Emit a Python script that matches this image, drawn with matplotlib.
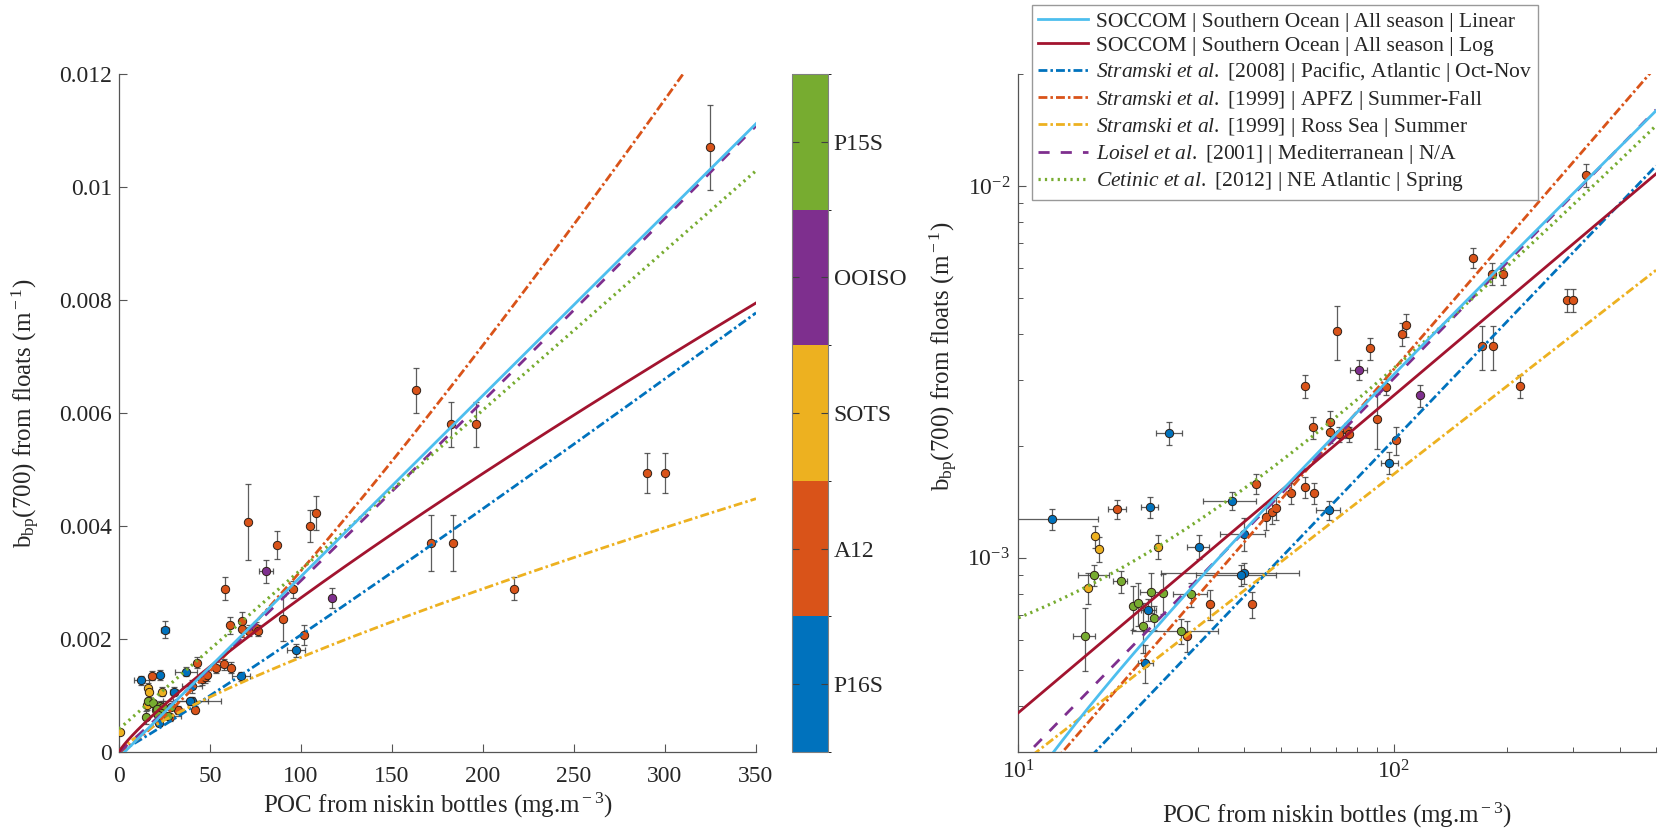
import numpy as np
import matplotlib
matplotlib.use('Agg')
import matplotlib.pyplot as plt
from matplotlib.colors import ListedColormap, BoundaryNorm
from matplotlib.ticker import FuncFormatter, LogLocator, NullFormatter, MultipleLocator
import matplotlib.cm as cm

plt.rcParams['font.family'] = ['Liberation Serif', 'DejaVu Serif']
plt.rcParams['mathtext.fontset'] = 'custom'
plt.rcParams['mathtext.rm'] = 'Liberation Serif'
plt.rcParams['mathtext.it'] = 'Liberation Serif:italic'
plt.rcParams['mathtext.bf'] = 'Liberation Serif:bold'

# ---------------- data ----------------
cruise_names = ['P16S', 'A12', 'SOTS', 'OOISO', 'P15S']
cruise_colors = ['#0072BD', '#D95319', '#EDB120', '#7E2F8E', '#77AC30']

p16s_poc = [12.3, 22.4, 25.2, 30.2, 37.0, 40.0, 40.0, 39.2, 22.2, 21.8, 67.1, 97.4]
p16s_bbp = [1.27e-3, 1.37e-3, 2.16e-3, 1.07e-3, 1.42e-3, 1.16e-3, 9.1e-4, 8.97e-4, 7.24e-4, 5.21e-4, 1.34e-3, 1.80e-3]
p16s_poc_err = [4.0, 1.2, 2.0, 2.0, 6.0, 5.5, 16.0, 9.5, 1.0, 1.0, 5.0, 5.0]
p16s_bbp_err = [8e-5, 9e-5, 1.5e-4, 8e-5, 8e-5, 1.2e-4, 6e-5, 6e-5, 5e-5, 6e-5, 8e-5, 1.2e-4]

a12_poc = [18.3, 28.1, 32.3, 42.0, 42.9, 45.6, 47.3, 48.5, 53.2, 57.9, 61.3, 58.0, 61.1, 67.6, 67.6,
           71.6, 75.1, 76.2, 70.7, 86.7, 90.3, 95.6, 101.6, 105.2, 108.1, 163.0, 171.7, 182.5, 183.5,
           196.0, 217.0, 290.0, 300.0, 325.0]
a12_bbp = [1.35e-3, 6.17e-4, 7.5e-4, 7.5e-4, 1.58e-3, 1.29e-3, 1.33e-3, 1.36e-3, 1.49e-3, 1.55e-3,
           1.49e-3, 2.89e-3, 2.24e-3, 2.31e-3, 2.18e-3, 2.15e-3, 2.20e-3, 2.15e-3, 4.07e-3, 3.66e-3,
           2.36e-3, 2.88e-3, 2.07e-3, 4.0e-3, 4.23e-3, 6.4e-3, 3.7e-3, 5.8e-3, 3.7e-3, 5.8e-3,
           2.89e-3, 4.94e-3, 4.94e-3, 1.07e-2]
a12_poc_err = [1.0, 0, 0, 0, 0, 0, 0, 0, 0, 0, 0, 0, 0, 0, 0, 0, 0, 0, 0, 0, 0, 0, 0, 0, 0,
               0, 0, 0, 0, 0, 0, 0, 0, 0]
a12_bbp_err = [8e-5, 6e-5, 7e-5, 6e-5, 1e-4, 1e-4, 1e-4, 1e-4, 1e-4, 1e-4, 1e-4, 2e-4, 1.5e-4,
               1.7e-4, 1.5e-4, 1e-4, 1e-4, 1e-4, 6.7e-4, 2.5e-4, 4e-4, 1.5e-4, 1.8e-4, 2.8e-4,
               3e-4, 4e-4, 5e-4, 4e-4, 5e-4, 4e-4, 2e-4, 3.5e-4, 3.5e-4, 7.5e-4]

sots_poc = [0.5, 15.3, 15.97, 16.4, 23.5]
sots_bbp = [3.6e-4, 8.29e-4, 1.14e-3, 1.055e-3, 1.07e-3]
sots_poc_err = [0, 0, 0, 0, 0]
sots_bbp_err = [3e-5, 8e-5, 8e-5, 8e-5, 8e-5]

ooiso_poc = [80.7, 117.3]
ooiso_bbp = [3.2e-3, 2.73e-3]
ooiso_poc_err = [4.0, 0]
ooiso_bbp_err = [2e-4, 1.8e-4]

p15s_poc = [15.9, 18.7, 22.6, 24.2, 28.8, 20.2, 20.8, 22.9, 21.5, 15.0, 27.1]
p15s_bbp = [8.98e-4, 8.63e-4, 8.09e-4, 8.04e-4, 7.96e-4, 7.4e-4, 7.55e-4, 6.89e-4, 6.54e-4, 6.14e-4, 6.34e-4]
p15s_poc_err = [1.5, 0.8, 1.5, 0, 3.0, 0, 0, 0, 0, 1.0, 7.0]
p15s_bbp_err = [6e-5, 6e-5, 1e-4, 1e-4, 6e-5, 1e-4, 1e-4, 5e-5, 1e-4, 1.2e-4, 5e-5]

cruise_data = [
    (p16s_poc, p16s_bbp, p16s_poc_err, p16s_bbp_err),
    (a12_poc, a12_bbp, a12_poc_err, a12_bbp_err),
    (sots_poc, sots_bbp, sots_poc_err, sots_bbp_err),
    (ooiso_poc, ooiso_bbp, ooiso_poc_err, ooiso_bbp_err),
    (p15s_poc, p15s_bbp, p15s_poc_err, p15s_bbp_err),
]

# relationship models: linear  bbp = (POC - b)/a ; power  bbp = c * POC**e
line_labels = [
    'SOCCOM | Southern Ocean | All season | Linear',
    'SOCCOM | Southern Ocean | All season | Log',
    r'$\mathit{Stramski\ et\ al.}$ [2008] | Pacific, Atlantic | Oct-Nov',
    r'$\mathit{Stramski\ et\ al.}$ [1999] | APFZ | Summer-Fall',
    r'$\mathit{Stramski\ et\ al.}$ [1999] | Ross Sea | Summer',
    r'$\mathit{Loisel\ et\ al.}$ [2001] | Mediterranean | N/A',
    r'$\mathit{Cetinic\ et\ al.}$ [2012] | NE Atlantic | Spring',
]
line_kind = ['lin', 'pow', 'pow', 'pow', 'pow', 'pow', 'lin']
line_p1 = [31200.0, 5.372e-5, 1.609e-5, 1.494e-5, 4.513e-5, 2.594e-5, 35422.0]
line_p2 = [3.04, 0.853, 1.055, 1.166, 0.785, 1.034, -14.4]
line_colors = ['#4DBEEE', '#A2142F', '#0072BD', '#D95319', '#EDB120', '#7E2F8E', '#77AC30']
line_styles = ['-', '-', (0, (3.2, 1.1, 0.9, 1.1)), (0, (3.2, 1.1, 0.9, 1.1)),
               (0, (3.2, 1.1, 0.9, 1.1)), (0, (4.0, 4.0)), (0, (0.7, 1.3))]
line_z = [6, 5, 4, 4, 4, 4, 4]

# ---------------- figure ----------------
W, H = 1665, 832
fig = plt.figure(figsize=(W / 100, H / 100), dpi=100)

axL = fig.add_axes([119 / W, 80 / H, 637 / W, 678 / H])
axR = fig.add_axes([1018.5 / W, 80 / H, 637.5 / W, 678 / H])
cax = fig.add_axes([792 / W, 80 / H, 36 / W, 678 / H])

tick_fs = 17
label_fs = 18
axis_col = '#555555'
text_col = '#262626'


def model(kind, p1, p2, x):
    if kind == 'lin':
        return (x - p2) / p1
    return p1 * x ** p2


def draw(ax, xgrid):
    for (poc, bbp, pe, be), col in zip(cruise_data, cruise_colors):
        ax.errorbar(poc, bbp, xerr=pe, yerr=be, fmt='none', ecolor='#404040',
                    elinewidth=0.9, capsize=2.5, capthick=0.9, zorder=2, alpha=0.85)
        ax.plot(poc, bbp, 'o', color=col, markersize=6, markeredgecolor='#2e2018',
                markeredgewidth=0.7, zorder=3, clip_on=True)
    handles = []
    for kind, p1, p2, c, ls, lab, z in zip(line_kind, line_p1, line_p2, line_colors,
                                           line_styles, line_labels, line_z):
        y = model(kind, p1, p2, xgrid)
        lw = 2.3 if ls == (0, (0.7, 1.3)) else 2.0
        h, = ax.plot(xgrid, y, color=c, linestyle=ls, lw=lw, zorder=z, label=lab)
        handles.append(h)
    return handles


# Left (linear)
xg = np.linspace(0.0, 350, 1500)
draw(axL, xg)
axL.set_xlim(0, 350)
axL.set_ylim(0, 0.012)
axL.xaxis.set_major_locator(MultipleLocator(50))
axL.yaxis.set_major_locator(MultipleLocator(0.002))
axL.yaxis.set_major_formatter(FuncFormatter(lambda v, p: '0' if abs(v) < 1e-12 else '%g' % round(v, 4)))

# Right (log)
xg2 = np.logspace(1, np.log10(500), 1500)
handles = draw(axR, xg2)
axR.set_xscale('log')
axR.set_yscale('log')
axR.set_xlim(10, 500)
axR.set_ylim(3e-4, 2e-2)
fmt = FuncFormatter(lambda v, p: r'$\mathregular{10^{%d}}$' % int(round(np.log10(v))))
for a in (axR.xaxis, axR.yaxis):
    a.set_major_locator(LogLocator(base=10, numticks=10))
    a.set_minor_locator(LogLocator(base=10, subs=np.arange(2, 10), numticks=20))
    a.set_major_formatter(fmt)
    a.set_minor_formatter(NullFormatter())

for ax in (axL, axR):
    for s in ('top', 'right'):
        ax.spines[s].set_visible(False)
    for s in ('left', 'bottom'):
        ax.spines[s].set_color(axis_col)
        ax.spines[s].set_linewidth(0.9)
    ax.tick_params(which='major', direction='in', length=6, width=0.8, color=axis_col,
                   labelsize=tick_fs, labelcolor=text_col)
    ax.tick_params(which='minor', direction='in', length=3.5, width=0.7, color=axis_col)
    ax.set_xlabel(r'POC from niskin bottles (mg.m$^{\rm -3}$)', fontsize=label_fs, color=text_col)
    ax.set_ylabel(r'b$_{\rm bp}$(700) from floats (m$^{\rm -1}$)', fontsize=label_fs, color=text_col)

axL.tick_params(axis='x', which='major', pad=10)
axL.tick_params(axis='y', which='major', pad=5)
axR.tick_params(axis='both', which='major', pad=6)

axL.xaxis.set_label_coords(0.5, -0.057)
axL.yaxis.set_label_coords(-0.121, 0.5)
axR.xaxis.set_label_coords(0.5, -0.072)
axR.yaxis.set_label_coords(-0.092, 0.584)

# Colorbar
cmap = ListedColormap(cruise_colors)
norm = BoundaryNorm(np.arange(len(cruise_names) + 1), cmap.N)
sm = cm.ScalarMappable(norm=norm, cmap=cmap)
cb = fig.colorbar(sm, cax=cax, ticks=np.arange(len(cruise_names)) + 0.5)
cb.ax.set_yticklabels(cruise_names)
cb.outline.set_edgecolor('#808080')
cb.outline.set_linewidth(0.8)
cax.tick_params(direction='in', length=5, width=0.8, color='#404040', left=True, right=True,
                labelleft=False, labelright=True, labelsize=tick_fs, labelcolor=text_col, pad=4)

# Legend
leg = fig.legend(handles=handles, loc='upper left', bbox_to_anchor=(1032 / W, 1 - 5 / H),
                 fontsize=15.5, frameon=True, fancybox=False, framealpha=1, edgecolor='#999999',
                 handlelength=2.3, handletextpad=0.35, labelspacing=0.2, borderpad=0.3,
                 borderaxespad=0.0)
leg.set_zorder(10)
leg.get_frame().set_linewidth(1.0)
for t in leg.get_texts():
    t.set_color(text_col)

fig.savefig('out.png', dpi=100)
